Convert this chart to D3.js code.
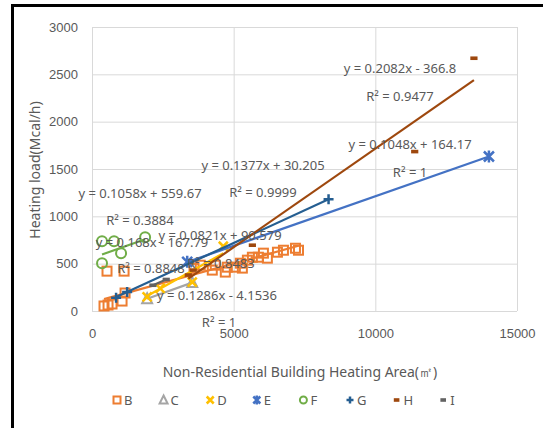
<!DOCTYPE html>
<html><head><meta charset="utf-8">
<script src="https://cdn.jsdelivr.net/npm/d3@7"></script>
<style>body{margin:0;background:#fff;}svg{display:block;font-family:"Noto Sans","Open Sans",sans-serif;}</style>
</head><body>
<svg id="c" width="543" height="428"></svg>
<script>
// ---- data ----
const seriesNames = ["B","C","D","E","F","G","H","I"];
const colors = ["#ED7D31","#A5A5A5","#FFC000","#4472C4","#70AD47","#255E91","#9E480E","#636363"];
const B_x = [424,566,707,1061,1167,530,1132,3600,3821,4245,4351,4705,4776,5059,5236,5307,5484,5660,5873,6050,6190,6545,6757,7181,7288];
const B_y = [53,63,74,105,190,421,421,450,484,432,484,411,463,463,505,453,537,568,568,611,558,621,642,663,642];
const C_x = [1946,3538];
const C_y = [130,300];
const D_x = [1946,2405,3538,4634];
const D_y = [150,240,305,684];
const E_x = [3360,14009];
const E_y = [520,1632];
const F_x = [354,778,1026,354,1875];
const F_y = [737,737,611,505,779];
const G_x = [850,1240,8349];
const G_y = [140,200,1180];
const H_x = [3400,3573,5660,11390,13480];
const H_y = [380,432,695,1684,2670];
const I_x = [2150,2620];
const I_y = [272,333];
// trendline coefficients (null = fit from points)
const trendSlope = [0.0821,null,0.168,0.1048,0.1058,0.1377,0.2082,0.1286];
const trendIntercept = [90.579,null,-167.79,164.17,559.67,30.205,-366.8,-4.1536];
const labelTexts = ["y = 0.2082x - 366.8","R² = 0.9477","y = 0.1048x + 164.17","R² = 1",
  "y = 0.1377x + 30.205","R² = 0.9999","y = 0.1058x + 559.67","R² = 0.3884",
  "y = 0.0821x + 90.579","y = 0.168x - 167.79","R² = 0.8848","R² = 0.8483",
  "y = 0.1286x - 4.1536","R² = 1"];
const xTicks = [0,5000,10000,15000];
const yTicks = [0,500,1000,1500,2000,2500,3000];

const X = [B_x,C_x,D_x,E_x,F_x,G_x,H_x,I_x];
const Y = [B_y,C_y,D_y,E_y,F_y,G_y,H_y,I_y];

const svg = d3.select("#c");
const L=92, R=517, T=27, Bt=311;
const x = d3.scaleLinear().domain([0,15000]).range([L,R]);
const y = d3.scaleLinear().domain([0,3000]).range([Bt,T]);
const txt = "#595959";

// frame
svg.append("rect").attr("x",11).attr("y",4).attr("width",540).attr("height",3).attr("fill","#000");
svg.append("rect").attr("x",11).attr("y",4).attr("width",3).attr("height",430).attr("fill","#000");

// grid
const gx = svg.append("g").attr("transform",`translate(0,${Bt})`)
  .call(d3.axisBottom(x).tickValues(xTicks).tickSize(-(Bt-T)).tickFormat(d=>d).tickPadding(18));
const gy = svg.append("g").attr("transform",`translate(${L},0)`)
  .call(d3.axisLeft(y).tickValues(yTicks).tickSize(-(R-L)).tickFormat(d=>d).tickPadding(14));
[gx,gy].forEach(g=>{
  g.select(".domain").remove();
  g.selectAll(".tick line").attr("stroke","#D9D9D9").attr("stroke-width",1);
  g.selectAll(".tick text").attr("fill",txt).attr("font-size",13);
});

// axis titles
svg.append("text").attr("x",300).attr("y",377).attr("text-anchor","middle")
  .attr("fill",txt).attr("font-size",14).text("Non-Residential Building Heating Area(㎡)");
svg.append("text").attr("transform","translate(40,170) rotate(-90)").attr("text-anchor","middle")
  .attr("fill",txt).attr("font-size",14).text("Heating load(Mcal/h)");

// marker drawing
function marker(g, i, cx, cy, s){
  const c = colors[i];
  const h = s/2;
  if(i===0){ g.append("rect").attr("x",cx-h).attr("y",cy-h).attr("width",s).attr("height",s)
      .attr("fill","none").attr("stroke",c).attr("stroke-width",2); }
  else if(i===1){ g.append("path").attr("d",`M${cx},${cy-h-1}L${cx+h+0.5},${cy+h}L${cx-h-0.5},${cy+h}Z`)
      .attr("fill","none").attr("stroke",c).attr("stroke-width",2); }
  else if(i===2){ g.append("path").attr("d",`M${cx-h},${cy-h}L${cx+h},${cy+h}M${cx+h},${cy-h}L${cx-h},${cy+h}`)
      .attr("stroke",c).attr("stroke-width",2.5); }
  else if(i===3){ g.append("path").attr("d",`M${cx-h},${cy-h}L${cx+h},${cy+h}M${cx+h},${cy-h}L${cx-h},${cy+h}M${cx},${cy-h-1}L${cx},${cy+h+1}`)
      .attr("stroke",c).attr("stroke-width",2.5); }
  else if(i===4){ g.append("circle").attr("cx",cx).attr("cy",cy).attr("r",h)
      .attr("fill","none").attr("stroke",c).attr("stroke-width",2); }
  else if(i===5){ g.append("path").attr("d",`M${cx-h},${cy}L${cx+h},${cy}M${cx},${cy-h}L${cx},${cy+h}`)
      .attr("stroke",c).attr("stroke-width",2.5); }
  else { g.append("rect").attr("x",cx-h*0.8).attr("y",cy-1.8).attr("width",s*0.8).attr("height",3.6).attr("fill",c); }
}

function fit(xs,ys){
  const mx=d3.mean(xs), my=d3.mean(ys);
  let sxy=0,sxx=0; xs.forEach((v,k)=>{sxy+=(v-mx)*(ys[k]-my); sxx+=(v-mx)*(v-mx);});
  const m=sxy/sxx; return [m,my-m*mx];
}

const plot = svg.append("g");
seriesNames.forEach((n,i)=>{
  const g = plot.append("g");
  const sizes=[9,9,9,10,10,10,9,9];
  X[i].forEach((v,k)=>marker(g,i,x(v),y(Y[i][k]),sizes[i]));
  let m=trendSlope[i], b=trendIntercept[i];
  if(m===null){ [m,b]=fit(X[i],Y[i]); }
  const x0=d3.min(X[i]), x1=d3.max(X[i]);
  g.append("line").attr("x1",x(x0)).attr("y1",y(m*x0+b)).attr("x2",x(x1)).attr("y2",y(m*x1+b))
    .attr("stroke",colors[i]).attr("stroke-width",2.2);
});

// trendline labels (pixel centres)
const labelPos = [[400,68],[400,96],[410,144],[410,172],[263,165],[263,192],[140,193],[140,220],
  [220,235],[152,242],[151,268],[221,263],[217,295],[219,322]];
labelTexts.forEach((t,k)=>{
  svg.append("text").attr("x",labelPos[k][0]).attr("y",labelPos[k][1]).attr("dy","0.35em")
    .attr("text-anchor","middle").attr("fill",txt).attr("font-size",13).text(t);
});

// legend
const lg = svg.append("g");
seriesNames.forEach((n,i)=>{
  const cx = 117 + i*46.6, cy=400;
  marker(lg,i,cx,cy,7);
  lg.append("text").attr("x",cx+7).attr("y",cy).attr("dy","0.35em").attr("fill",txt)
    .attr("font-size",13).text(n);
});
</script>
</body></html>
